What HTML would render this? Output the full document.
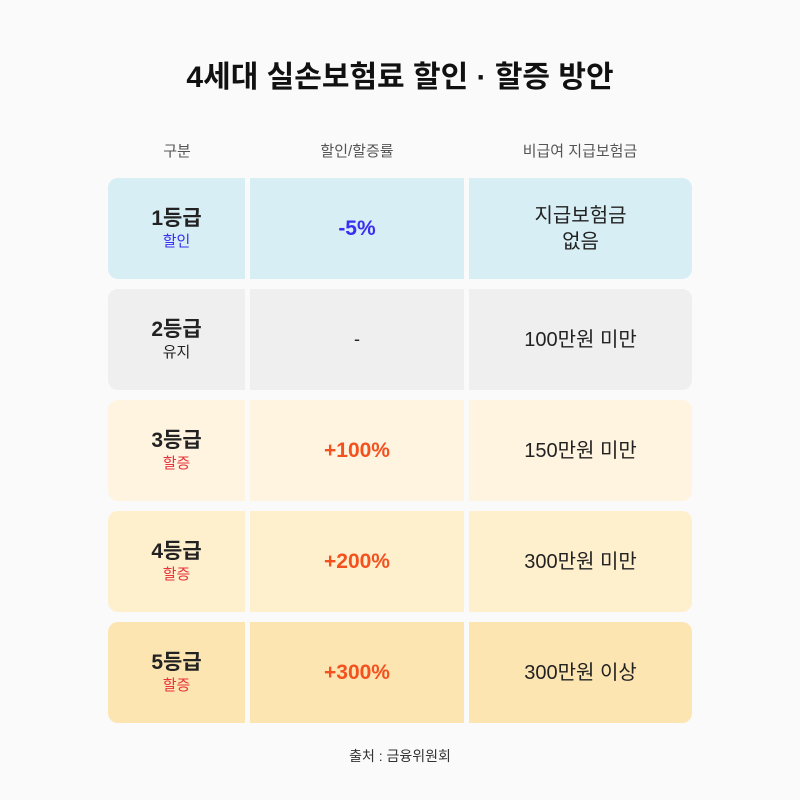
<!DOCTYPE html>
<html><head><meta charset="utf-8"><style>
*{margin:0;padding:0;box-sizing:border-box}
body{width:800px;height:800px;background:#fafafa;font-family:"Liberation Sans","Noto Sans CJK KR",sans-serif;position:relative;overflow:hidden;color:#222}
.t{position:absolute;left:0;width:800px;top:52px;text-align:center;font-size:30px;font-weight:700;color:#111}
.h{position:absolute;top:140px;font-size:15px;color:#555;text-align:center}
.c{position:absolute;display:flex;flex-direction:column;align-items:center;justify-content:center;text-align:center}
.g{font-size:21px;font-weight:700;line-height:26px;color:#222}
.s{font-size:15px;line-height:20px}
.m{font-size:21px;font-weight:700}
.r{font-size:20px;line-height:26px;color:#222}
.src{position:absolute;top:746px;left:0;width:800px;text-align:center;font-size:14px;color:#333}
</style></head><body>
<div class="t">4세대 실손보험료 할인 · 할증 방안</div>
<div class="h" style="left:109px;width:136px">구분</div>
<div class="h" style="left:250px;width:214px">할인/할증률</div>
<div class="h" style="left:469px;width:222px">비급여 지급보험금</div>
<div id="tbl"></div>
<div class="src">출처 : 금융위원회</div>
<script>
const grades=["1등급","2등급","3등급","4등급","5등급"];
const subs=["할인","유지","할증","할증","할증"];
const rates=["-5%","-","+100%","+200%","+300%"];
const claims=["지급보험금<br>없음","100만원 미만","150만원 미만","300만원 미만","300만원 이상"];
const bgs=["#d7eef5","#efefef","#fef4df","#feefcd","#fde5b2"];
const subCol=["#3a2ff0","#222","#e8323c","#e8323c","#e8323c"];
const rateCol=["#3a2ff0","#222","#f4511e","#f4511e","#f4511e"];
const tbl=document.getElementById('tbl');
const cols=[[108,137],[250,214],[469,223]];
grades.forEach((g,i)=>{
  const top=178+i*111;
  cols.forEach((c,j)=>{
    const d=document.createElement('div');
    d.className='c';
    
    
    d.style.cssText=`left:${c[0]}px;width:${c[1]}px;top:${top}px;height:101px;background:${bgs[i]};`+
      (j==0?'border-radius:10px 0 0 10px;':j==2?'border-radius:0 10px 10px 0;':'');
    if(j==0)d.innerHTML=`<div class="g">${g}</div><div class="s" style="color:${subCol[i]}">${subs[i]}</div>`;
    else if(j==1)d.innerHTML=`<div class="m" style="color:${rateCol[i]};${i==1?'font-weight:400;font-size:18px':''}">${rates[i]}</div>`;
    else d.innerHTML=`<div class="r">${claims[i]}</div>`;
    tbl.appendChild(d);
  });
});
</script>
</body></html>
